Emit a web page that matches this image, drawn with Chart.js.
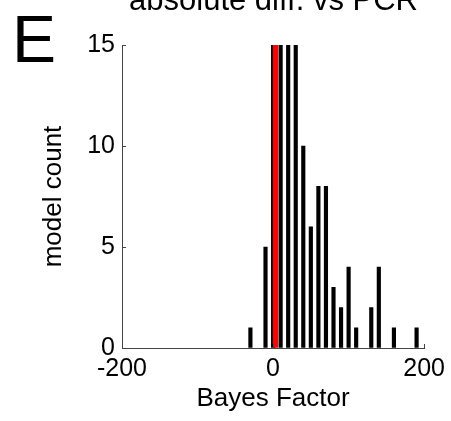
<html>
<head>
    <title>absolute diff. vs PCR</title>
    <script src="https://cdn.jsdelivr.net/npm/chart.js"></script>
    <style>
        body { margin: 0; background: #fff; }
        #wrap { width: 451px; height: 421px; }
    </style>
</head>
<body>
    <div id="wrap"><canvas id="bfChart" width="451" height="421"></canvas></div>

    <script>
        // histogram bin centres (Bayes factor) and model counts
        const binCenters = [-30, -10, 0, 10, 20, 30, 40, 50, 60, 70, 80, 90, 100, 110, 130, 140, 160, 190];
        const binCounts  = [  1,   5, 15, 15, 15, 15, 10,  6,  8,  8,  3,  2,   4,   1,   2,   4,   1,   1];
        // highlighted value (red bar)
        const markerX = [3.3];
        const markerY = [15];
        const xTicks = [-200, 0, 200];
        const yTicks = [0, 5, 10, 15];

        const FONT = '"Liberation Sans", Arial, Helvetica, sans-serif';
        const axisColor = '#444';

        const histData = binCenters.map((x, i) => ({ x: x, y: binCounts[i] }));
        const markData = markerX.map((x, i) => ({ x: x, y: markerY[i] }));

        // inward tick marks, panel letter and clipped title
        const extras = {
            id: 'extras',
            afterDraw(chart) {
                const ctx = chart.ctx;
                const x = chart.scales.x, y = chart.scales.y;
                ctx.save();
                ctx.strokeStyle = axisColor;
                ctx.lineWidth = 1;
                ctx.beginPath();
                xTicks.forEach(v => {
                    const px = Math.round(x.getPixelForValue(v)) + 0.5;
                    ctx.moveTo(px, y.bottom);
                    ctx.lineTo(px, y.bottom - 4);
                });
                yTicks.forEach(v => {
                    const py = Math.round(y.getPixelForValue(v)) + 0.5;
                    ctx.moveTo(x.left, py);
                    ctx.lineTo(x.left + 4, py);
                });
                ctx.stroke();

                ctx.fillStyle = '#000';
                ctx.textBaseline = 'alphabetic';
                ctx.textAlign = 'left';
                ctx.font = '66px ' + FONT;
                ctx.fillText('E', 12, 62);

                ctx.textAlign = 'center';
                ctx.font = '31px ' + FONT;
                ctx.fillText('absolute diff. vs PCR', 273.5, 10);
                ctx.restore();
            }
        };

        new Chart(document.getElementById('bfChart').getContext('2d'), {
            type: 'bar',
            data: {
                datasets: [
                    { label: 'marker', data: markData, backgroundColor: '#ff0000', barThickness: 4.6, order: 0 },
                    { label: 'models', data: histData, backgroundColor: '#000000', barThickness: 3.5, order: 1 }
                ]
            },
            options: {
                responsive: false,
                animation: false,
                layout: { padding: { top: 45, right: 26, left: 0, bottom: 0 } },
                plugins: { legend: { display: false }, tooltip: { enabled: false } },
                datasets: { bar: { grouped: false } },
                scales: {
                    x: {
                        type: 'linear',
                        offset: false,
                        min: -200, max: 200,
                        afterBuildTicks: s => { s.ticks = xTicks.map(v => ({ value: v })); },
                        afterFit: s => { s.height = 73; },
                        grid: { display: true, drawOnChartArea: false, drawTicks: false, offset: false },
                        border: { color: axisColor, width: 1 },
                        ticks: { color: '#000', padding: 6, font: { family: FONT, size: 25 } },
                        title: {
                            display: true, text: 'Bayes Factor', color: '#000',
                            padding: { top: 0, bottom: 7 },
                            font: { family: FONT, size: 26, lineHeight: 1.2 }
                        }
                    },
                    y: {
                        min: 0, max: 15,
                        afterBuildTicks: s => { s.ticks = yTicks.map(v => ({ value: v })); },
                        afterFit: s => { s.width = 122; },
                        grid: { display: true, drawOnChartArea: false, drawTicks: false },
                        border: { color: axisColor, width: 1 },
                        ticks: { color: '#000', padding: 7, font: { family: FONT, size: 25 } },
                        title: {
                            display: true, text: 'model count', color: '#000',
                            padding: { top: 38, bottom: 0 },
                            font: { family: FONT, size: 26, lineHeight: 1.2 }
                        }
                    }
                }
            },
            plugins: [extras]
        });
    </script>
</body>
</html>
